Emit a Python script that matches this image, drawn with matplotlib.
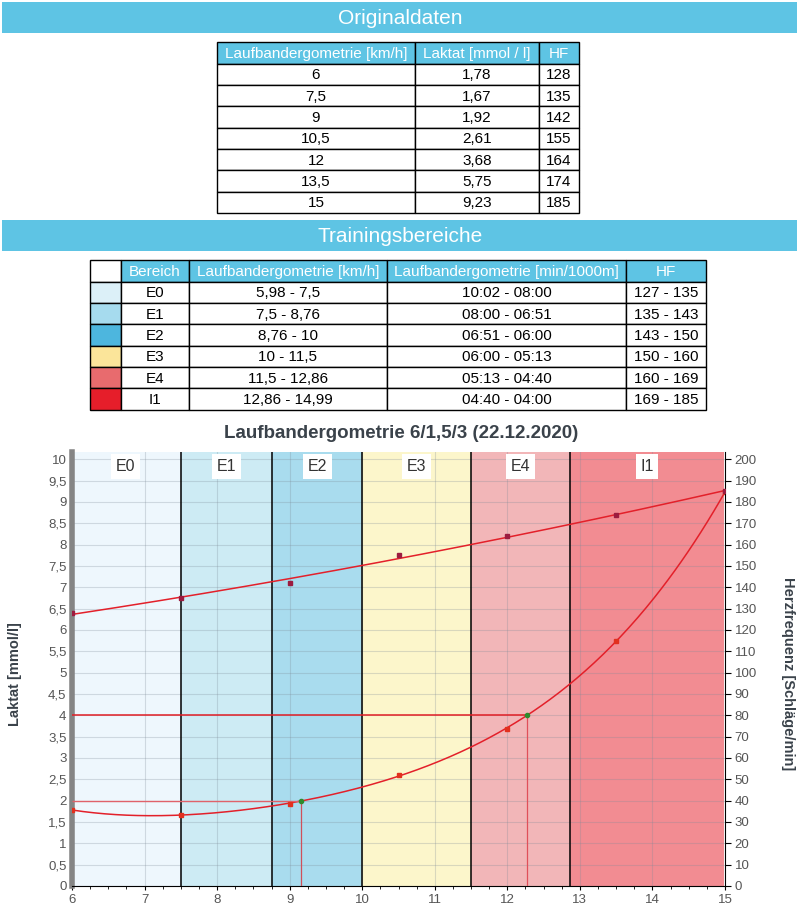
import numpy as np
import matplotlib.pyplot as plt
from matplotlib.patches import Rectangle
from matplotlib.ticker import FuncFormatter, MultipleLocator

plt.rcParams['font.family'] = ['Liberation Sans', 'DejaVu Sans']

# Originaldaten
speed = [6, 7.5, 9, 10.5, 12, 13.5, 15]
lactate = [1.78, 1.67, 1.92, 2.61, 3.68, 5.75, 9.23]
hf = [128, 135, 142, 155, 164, 174, 185]

# Trainingsbereiche
zones = ['E0', 'E1', 'E2', 'E3', 'E4', 'I1']
zone_kmh = ['5,98 - 7,5', '7,5 - 8,76', '8,76 - 10', '10 - 11,5', '11,5 - 12,86', '12,86 - 14,99']
zone_pace = ['10:02 - 08:00', '08:00 - 06:51', '06:51 - 06:00', '06:00 - 05:13', '05:13 - 04:40', '04:40 - 04:00']
zone_hf = ['127 - 135', '135 - 143', '143 - 150', '150 - 160', '160 - 169', '169 - 185']
zone_edges = [5.98, 7.5, 8.76, 10, 11.5, 12.86, 14.99]

# 2 / 4 mmol thresholds
thr_x = [9.15, 12.27]
thr_y = [2, 4]

blue = '#5ec4e4'
swatch_colors = ['#dcf0f8', '#a6dbee', '#4db6de', '#fbe59a', '#e86b6e', '#e61e2a']
zone_colors = ['#eef7fd', '#cdebf4', '#a9dcee', '#fcf6cb', '#f2b6b8', '#f28c92']

fig = plt.figure(figsize=(8.01, 9.06), dpi=100)
bg = fig.add_axes([0, 0, 1, 1])
bg.set_xlim(0, 801)
bg.set_ylim(906, 0)
bg.axis('off')


def header_bar(y0, y1, text):
    bg.add_patch(Rectangle((2, y0), 795, y1 - y0, fc=blue, ec='none'))
    bg.text(400, (y0 + y1) / 2 + 1, text, color='white', fontsize=15,
            ha='center', va='center')


def draw_table(xs, y0, head_h, row_h, header, rows, swatches=None):
    # header row
    for i, h in enumerate(header):
        fc = 'white' if (swatches is not None and i == 0) else blue
        bg.add_patch(Rectangle((xs[i], y0), xs[i + 1] - xs[i], head_h,
                               fc=fc, ec='black', lw=1))
        bg.text((xs[i] + xs[i + 1]) / 2, y0 + head_h / 2 + 1, h, color='white',
                fontsize=11, ha='center', va='center')
    y = y0 + head_h
    for r, row in enumerate(rows):
        for i, val in enumerate(row):
            fc = swatches[r] if (swatches is not None and i == 0) else 'white'
            bg.add_patch(Rectangle((xs[i], y), xs[i + 1] - xs[i], row_h,
                                   fc=fc, ec='black', lw=1))
            bg.text((xs[i] + xs[i + 1]) / 2, y + row_h / 2 + 1, val, color='black',
                    fontsize=11, ha='center', va='center')
        y += row_h


def de(v):
    return f'{v:g}'.replace('.', ',')


header_bar(2, 33, 'Originaldaten')
rows1 = [[de(s), de(l), str(h)] for s, l, h in zip(speed, lactate, hf)]
draw_table([217, 415, 539, 579], 42, 21.5, 21.35,
           ['Laufbandergometrie [km/h]', 'Laktat [mmol / l]', 'HF'], rows1)

header_bar(220, 251, 'Trainingsbereiche')
rows2 = [['', z, k, p, h] for z, k, p, h in zip(zones, zone_kmh, zone_pace, zone_hf)]
draw_table([90, 121, 189, 387, 626, 706], 260, 21.5, 21.35,
           ['', 'Bereich', 'Laufbandergometrie [km/h]', 'Laufbandergometrie [min/1000m]', 'HF'],
           rows2, swatches=swatch_colors)

fig.text(401 / 801, 1 - 434 / 906, 'Laufbandergometrie 6/1,5/3 (22.12.2020)',
         fontsize=13.5, fontweight='bold', color='#3a424a', ha='center', va='center')

# chart
ax = fig.add_axes([72 / 801, 20 / 906, 653 / 801, 434 / 906])
ax.set_xlim(6, 15)
ax.set_ylim(0, 10.17)
for i, z in enumerate(zones):
    ax.axvspan(zone_edges[i], zone_edges[i + 1], color=zone_colors[i], lw=0, zorder=1)
    ax.text((zone_edges[i] + zone_edges[i + 1]) / 2, 9.83, z, fontsize=11.5, color='#333333',
            ha='center', va='center', zorder=6,
            bbox=dict(boxstyle='square,pad=0.3', fc='white', ec='none'))
for e in zone_edges[1:-1]:
    ax.axvline(e, color='black', lw=1.1, zorder=2)

ax.set_axisbelow('line')
ax.grid(True, color='#7d8a97', alpha=0.28, lw=0.8)
ax.xaxis.set_major_locator(MultipleLocator(1))
ax.yaxis.set_major_locator(MultipleLocator(0.5))
ax.xaxis.set_minor_locator(MultipleLocator(0.25))
ax.xaxis.set_major_formatter(FuncFormatter(lambda v, p: de(v)))
ax.yaxis.set_major_formatter(FuncFormatter(lambda v, p: de(v)))
ax.tick_params(axis='y', length=0, pad=4, labelsize=9.5, labelcolor='#555555')
ax.tick_params(axis='x', length=3, pad=3, labelsize=9.5, labelcolor='#555555')
ax.tick_params(axis='x', which='minor', length=2)
ax.spines['left'].set_color('#858585')
ax.spines['left'].set_linewidth(4)
ax.spines['top'].set_visible(False)
ax.spines['right'].set_visible(False)

# lactate curve (4th order fit) and points
xs = np.linspace(speed[0], speed[-1], 300)
lac_fit = np.polyval(np.polyfit(speed, lactate, 4), xs)
ax.plot(xs, lac_fit, color='#e3202a', lw=1.1, zorder=3)
ax.plot(speed, lactate, 's', color='#e2301e', ms=3.5, zorder=4)

# thresholds
ax.hlines(thr_y[0], 6, thr_x[0], color='#e0626a', lw=1, zorder=3)
ax.vlines(thr_x[0], 0, thr_y[0], color='#d0505a', lw=0.9, zorder=3)
ax.hlines(thr_y[1], 6, thr_x[1], color='#e01e26', lw=1.1, zorder=3)
ax.vlines(thr_x[1], 0, thr_y[1], color='#e0505a', lw=0.9, zorder=3)
ax.plot(thr_x, thr_y, 'o', color='#2e8b2e', ms=3, zorder=5)

fig.text(15 / 801, 1 - 674 / 906, 'Laktat [mmol/l]', rotation=90, fontsize=10.5,
         fontweight='bold', color='#3a424a', ha='center', va='center')

# heart rate on right axis
ax2 = ax.twinx()
ax2.set_ylim(0, 10.17 * 20)
ax2.yaxis.set_major_locator(MultipleLocator(10))
ax2.tick_params(axis='y', length=4, pad=3, labelsize=9.5, labelcolor='#555555')
for s in ['left', 'top', 'bottom']:
    ax2.spines[s].set_visible(False)
ax2.spines['right'].set_color('black')
hf_fit = np.polyval(np.polyfit(speed, hf, 2), xs)
ax2.plot(xs, hf_fit, color='#e3202a', lw=1.1, zorder=3)
ax2.plot(speed, hf, 's', color='#9c1c40', ms=3.5, zorder=4)

fig.text(788 / 801, 1 - 674 / 906, 'Herzfrequenz [Schläge/min]', rotation=-90, fontsize=10.5,
         fontweight='bold', color='#3a424a', ha='center', va='center')

fig.savefig('out.png', dpi=100)
